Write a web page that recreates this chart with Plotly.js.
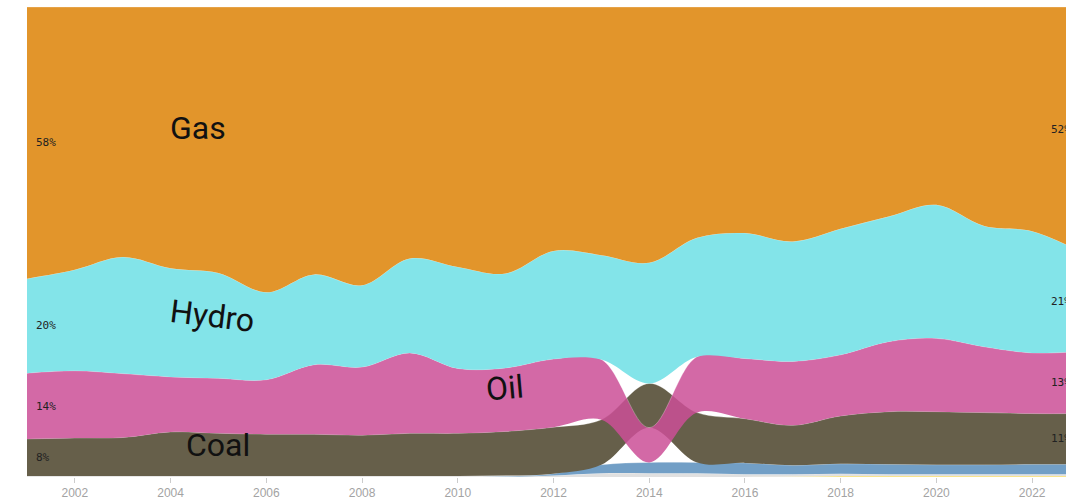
<!DOCTYPE html>
<html><head><meta charset="utf-8">
<script src="https://cdn.plot.ly/plotly-3.0.1.min.js"></script>
<style>html,body{margin:0;padding:0;overflow:hidden;background:#fff}</style>
</head><body><div id="chart"></div>
<script>
// ---- data (share of electricity generation, %) ----
const years = [2001,2002,2003,2004,2005,2006,2007,2008,2009,2010,2011,2012,2013,2014,2015,2016,2017,2018,2019,2020,2021,2022,2023];
const gas   = [57.8,55.9,53.2,55.6,56.6,60.7,56.9,59.2,53.5,55.3,56.7,51.9,52.8,54.4,49.1,48.1,49.9,47.2,44.6,42.1,46.6,47.7,52.0];
const hydro = [20.1,21.5,24.8,23.1,22.4,18.6,19.2,17.4,20.1,21.6,20.1,23.0,22.2,25.7,25.3,26.7,25.5,26.8,26.6,28.4,25.7,25.9,21.3];
const oil   = [14.0,14.3,13.6,11.7,11.7,11.6,14.8,14.5,17.1,13.8,13.5,14.5,12.8,7.4,11.9,12.8,13.6,13.0,14.9,15.6,14.0,12.9,13.2];
const coal  = [7.9,8.1,8.2,9.4,9.1,8.9,8.9,8.7,9.1,9.1,9.4,9.9,9.6,9.4,10.6,9.4,8.5,10.2,11.2,11.3,11.1,10.8,10.8];
const wind  = [0,0,0,0,0,0,0,0,0,0,0.1,0.4,1.8,2.3,2.3,2.4,1.9,2.1,2.1,2.0,2.0,2.1,2.1];
const other = [0.2,0.2,0.2,0.2,0.2,0.2,0.2,0.2,0.2,0.2,0.2,0.3,0.8,0.8,0.8,0.6,0.5,0.5,0.4,0.4,0.4,0.4,0.4];
const solar = [0,0,0,0,0,0,0,0,0,0,0,0,0,0,0,0,0.1,0.2,0.2,0.2,0.2,0.2,0.2];

const xTickStart = 2002, xTickStep = 2;
const labelled = ['Gas','Hydro','Oil','Coal'];
const bigLabels = [
  {name:'Gas',   x:2004.57, y:74.3, angle:0},
  {name:'Hydro', x:2004.88, y:34.3, angle:7},
  {name:'Oil',   x:2010.98, y:18.9, angle:-5},
  {name:'Coal',  x:2005.0,  y:6.8,  angle:0}
];

// ---- series (smallest first for stable tie-breaking) ----
const series = [
  {name:'Solar', values:solar, color:'rgba(247,224,122,1)'},
  {name:'Other', values:other, color:'rgba(224,224,224,1)'},
  {name:'Wind',  values:wind,  color:'rgba(114,159,198,1)'},
  {name:'Coal',  values:coal,  color:'rgba(102,95,74,1)'},
  {name:'Oil',   values:oil,   color:'rgba(203,79,150,0.85)'},
  {name:'Hydro', values:hydro, color:'rgba(131,228,233,1)'},
  {name:'Gas',   values:gas,   color:'rgba(226,149,43,1)'}
];

// ranked stacking: larger shares are stacked above smaller ones each year
const bottoms = series.map(()=>[]), tops = series.map(()=>[]);
years.forEach((yr,i)=>{
  const order = series.map((s,k)=>k).sort((a,b)=>series[a].values[i]-series[b].values[i]);
  let acc = 0;
  order.forEach(k=>{ bottoms[k][i]=acc; acc+=series[k].values[i]; tops[k][i]=acc; });
});

const traces = [];
series.forEach((s,k)=>{
  traces.push({x:years, y:bottoms[k], type:'scatter', mode:'lines',
    line:{width:0, shape:'spline', smoothing:1}, hoverinfo:'skip', showlegend:false});
  traces.push({x:years, y:tops[k], type:'scatter', mode:'lines', name:s.name,
    fill:'tonexty', fillcolor:s.color,
    line:{width:0.8, color:'rgba(255,255,255,0.35)', shape:'spline', smoothing:1},
    hoverinfo:'skip', showlegend:false});
});

const annotations = [];
const last = years.length-1;
series.forEach((s,k)=>{
  if(!labelled.includes(s.name)) return;
  annotations.push({x:years[0], y:(bottoms[k][0]+tops[k][0])/2, text:Math.round(s.values[0])+'%',
    xanchor:'left', yanchor:'middle', xshift:7, showarrow:false,
    font:{family:'DejaVu Sans Mono', size:11, color:'#222'}});
  annotations.push({x:years[last], y:(bottoms[k][last]+tops[k][last])/2, text:Math.round(s.values[last])+'%',
    xanchor:'right', yanchor:'middle', xshift:-7, showarrow:false,
    font:{family:'DejaVu Sans Mono', size:11, color:'#222'}});
});
bigLabels.forEach(l=>{
  annotations.push({x:l.x, y:l.y, text:l.name, textangle:l.angle, showarrow:false,
    xanchor:'center', yanchor:'middle',
    font:{family:'Roboto', size:32, color:'#111'}});
});

const layout = {
  width:1090, height:499,
  margin:{l:27, r:10, t:7, b:22},
  paper_bgcolor:'#fff', plot_bgcolor:'#fff',
  xaxis:{range:[years[0], years[last]], tick0:xTickStart, dtick:xTickStep, ticks:'outside',
    ticklen:5, tickcolor:'#ccc', tickwidth:1, showgrid:false, zeroline:false, showline:false,
    tickfont:{family:'Liberation Sans', size:12, color:'#a3a3a3'}},
  yaxis:{range:[0,100], visible:false, showgrid:false, zeroline:false},
  annotations:annotations,
  showlegend:false
};
Plotly.newPlot('chart', traces, layout, {staticPlot:true, displayModeBar:false});
</script>
</body></html>
